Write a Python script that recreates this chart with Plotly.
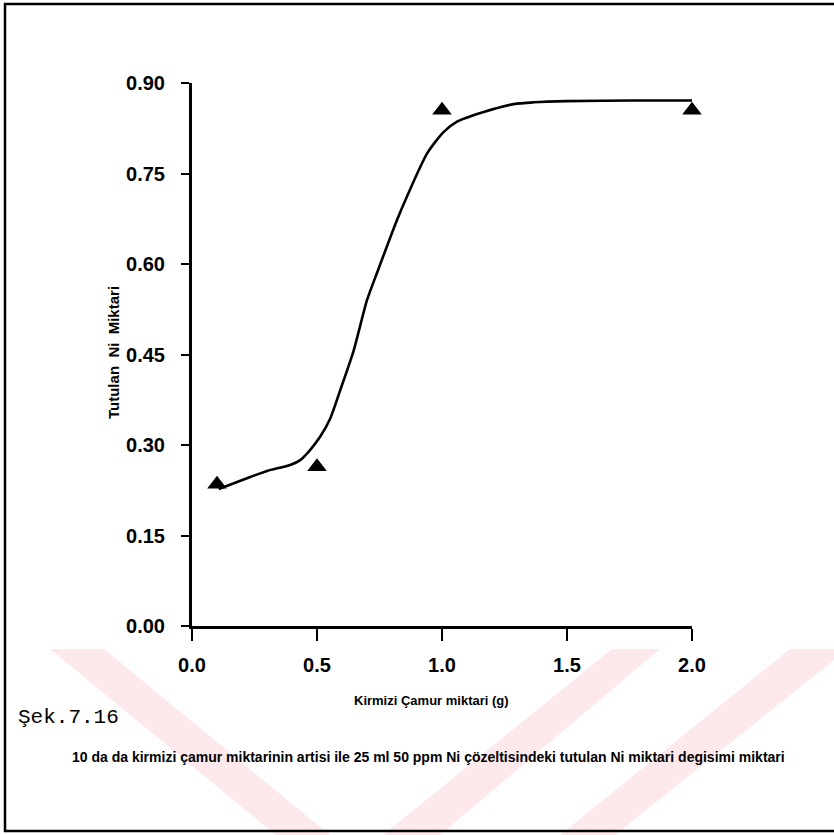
import plotly.graph_objects as go

# Measured data points (triangles)
amount_g = [0.1, 0.5, 1.0, 2.0]
ni_retained = [0.235, 0.264, 0.855, 0.855]

# Smooth fitted curve
fit_x = [0.107, 0.233, 0.30, 0.393, 0.433, 0.473, 0.513, 0.553, 0.593, 0.647,
         0.70, 0.747, 0.82, 0.86, 0.94, 1.007, 1.06, 1.167, 1.287, 1.367,
         1.50, 1.767, 2.0]
fit_y = [0.227, 0.247, 0.257, 0.267, 0.275, 0.292, 0.314, 0.344, 0.391, 0.457,
         0.540, 0.593, 0.673, 0.712, 0.783, 0.819, 0.836, 0.852, 0.865, 0.868,
         0.870, 0.871, 0.871]

x_ticks = [0.0, 0.5, 1.0, 1.5, 2.0]
x_ticklabels = ["0.0", "0.5", "1.0", "1.5", "2.0"]
y_ticks = [0.0, 0.15, 0.30, 0.45, 0.60, 0.75, 0.90]
y_ticklabels = ["0.00", "0.15", "0.30", "0.45", "0.60", "0.75", "0.90"]

x_title = "Kirmizi Çamur miktari (g)"
y_title = "Tutulan  Ni  Miktari"
fig_label = "Şek.7.16"
caption = ("10 da da kirmizi çamur miktarinin artisi ile 25 ml 50 ppm Ni "
           "çözeltisindeki tutulan Ni miktari degisimi miktari")

W, H = 834, 835
L, R, T, B = 192, 142, 83, 209
PW, PH = W - L - R, H - T - B

def px(xp, yp):
    return (xp - L) / PW, (H - B - yp) / PH

def poly(points):
    pts = [px(a, b) for a, b in points]
    return "M " + " L ".join(f"{a:.4f},{b:.4f}" for a, b in pts) + " Z"

SANS = "Liberation Sans, Arial"

fig = go.Figure()
fig.add_trace(go.Scatter(x=fit_x, y=fit_y, mode="lines",
                         line=dict(color="black", width=2.6, shape="spline", smoothing=0.7),
                         hoverinfo="skip", showlegend=False, cliponaxis=False))
fig.add_trace(go.Scatter(x=amount_g, y=ni_retained, mode="markers",
                         marker=dict(symbol="triangle-up", size=17, color="black"),
                         showlegend=False, cliponaxis=False))

pink = "#fde8ec"
stripes = [
    [(50, 649), (104, 649), (330, 835), (276, 835)],
    [(383, 835), (440, 835), (660, 649), (612, 649)],
    [(560, 835), (615, 835), (834, 660), (834, 649), (790, 649)],
]
shapes = []
for s in stripes:
    shapes.append(dict(type="path", xref="paper", yref="paper", path=poly(s),
                       fillcolor=pink, line=dict(width=0), layer="below"))
# frame border
x0, y0 = px(5, 4)
x1, y1 = px(845, 831)
shapes.append(dict(type="rect", xref="paper", yref="paper", x0=x0, y0=y1, x1=x1, y1=y0,
                   line=dict(color="black", width=2.5), fillcolor="rgba(0,0,0,0)"))

ann = []
ax_, ay_ = px(431, 700)
ann.append(dict(x=ax_, y=ay_, xref="paper", yref="paper", text="<b>" + x_title + "</b>", showarrow=False,
                font=dict(family=SANS, size=13, color="black"), xanchor="center", yanchor="middle"))
ax_, ay_ = px(113, 353)
ann.append(dict(x=ax_, y=ay_, xref="paper", yref="paper", text="<b>" + y_title + "</b>", showarrow=False,
                textangle=-90, font=dict(family=SANS, size=15, color="black"),
                xanchor="center", yanchor="middle"))
ax_, ay_ = px(16, 717)
ann.append(dict(x=ax_, y=ay_, xref="paper", yref="paper", text=fig_label, showarrow=False,
                font=dict(family="Liberation Mono, Courier New, monospace", size=21, color="black"),
                xanchor="left", yanchor="middle"))
ax_, ay_ = px(428, 757)
ann.append(dict(x=ax_, y=ay_, xref="paper", yref="paper", text="<b>" + caption + "</b>", showarrow=False,
                font=dict(family=SANS, size=14, color="black"), xanchor="center", yanchor="middle"))

fig.update_layout(
    width=W, height=H,
    margin=dict(l=L, r=R, t=T, b=B, pad=0),
    paper_bgcolor="white", plot_bgcolor="white",
    shapes=shapes, annotations=ann,
    xaxis=dict(range=[0, 2.0], tickvals=x_ticks, ticktext=x_ticklabels,
               showgrid=False, zeroline=False, showline=True, linecolor="black", linewidth=3,
               ticks="outside", ticklen=12, tickwidth=2, tickcolor="black",
               tickfont=dict(family=SANS, size=20, color="black", weight="bold"), ticklabelstandoff=7),
    yaxis=dict(range=[0, 0.9], tickvals=y_ticks, ticktext=y_ticklabels,
               showgrid=False, zeroline=False, showline=True, linecolor="black", linewidth=3,
               ticks="outside", ticklen=8, tickwidth=2, tickcolor="black",
               tickfont=dict(family=SANS, size=20, color="black", weight="bold"), ticklabelstandoff=12),
)

fig.write_html("out.html")
